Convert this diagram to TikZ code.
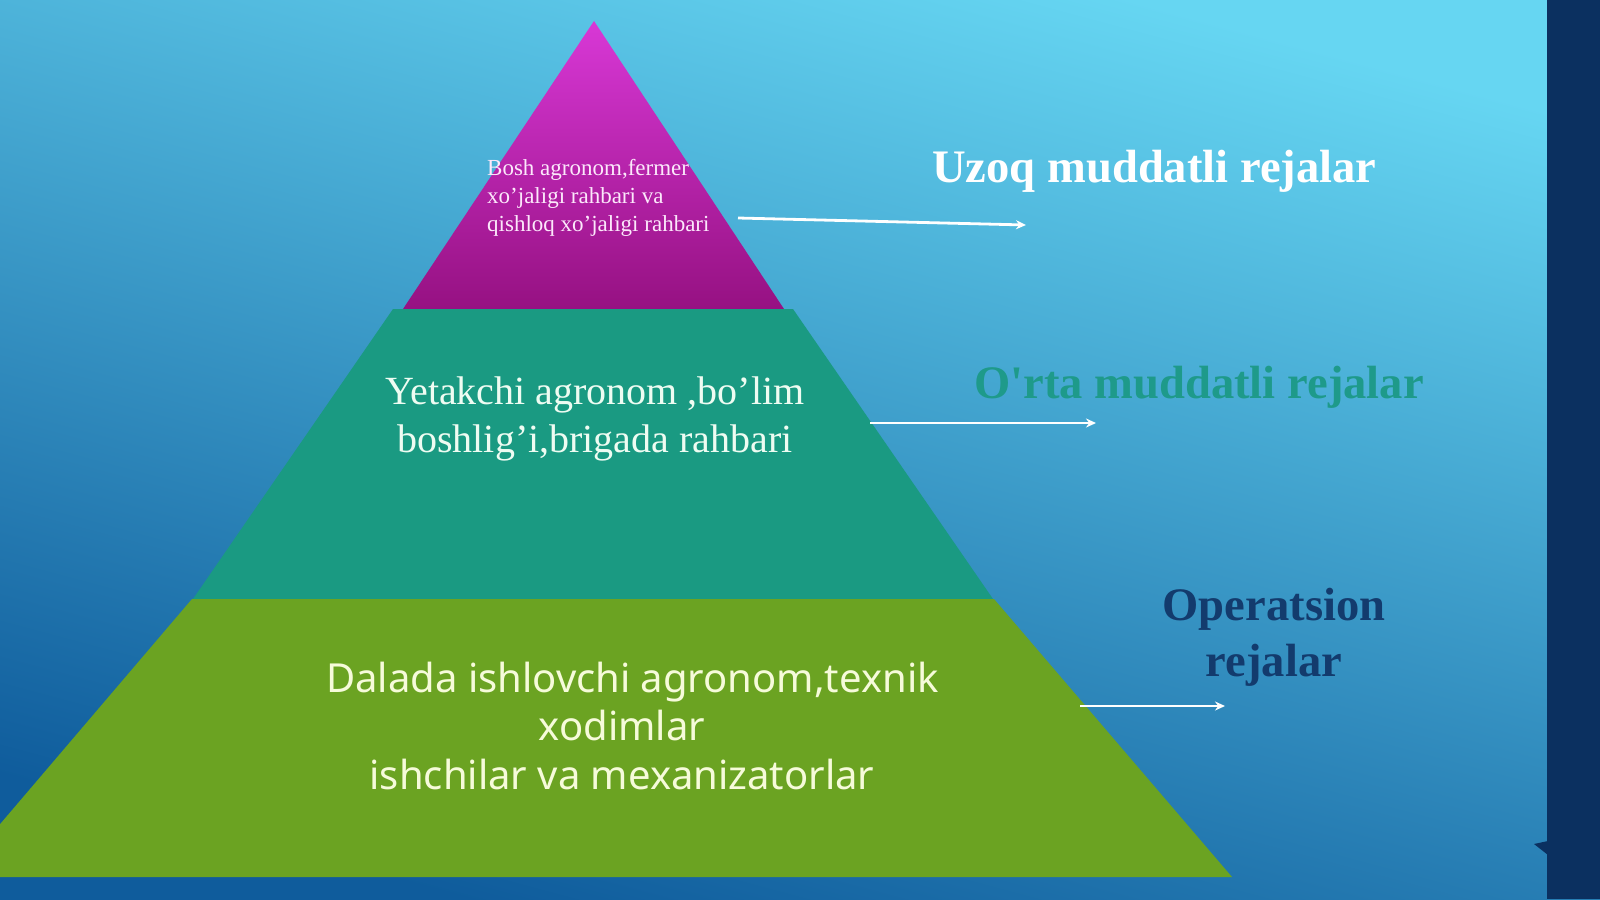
\documentclass[tikz,border=0pt]{standalone}
\usepackage{fontspec}
\setmainfont{Liberation Serif}
\newfontfamily\lblfont{Liberation Serif}
\newfontfamily\notofont{Noto Sans}
\usetikzlibrary{arrows.meta}
\definecolor{bgtop}{HTML}{66D6F2}
\definecolor{bgbot}{HTML}{0F5C9C}
\definecolor{strip}{HTML}{0B3060}
\definecolor{magtop}{HTML}{D838D6}
\definecolor{magbot}{HTML}{961182}
\definecolor{tealc}{HTML}{1A9A82}
\definecolor{greenc}{HTML}{6BA322}
\definecolor{toptxt}{HTML}{FCE8FB}
\definecolor{midtxt}{HTML}{EEFCF2}
\definecolor{bottxt}{HTML}{F6FBDA}
\definecolor{ortac}{HTML}{1E9A8A}
\definecolor{opc}{HTML}{133B6D}
\tikzset{
  arr/.style={draw=white, line width=2.8pt, -{Stealth[length=10pt,width=9pt]}},
  toptext/.style={text=toptxt, inner sep=0pt, align=left, font=\fontsize{23}{27.8}\selectfont},
  midtext/.style={text=midtxt, inner sep=0pt, align=center, font=\fontsize{40}{48}\selectfont},
  bottext/.style={text=bottxt, inner sep=0pt, align=center, font=\notofont\fontsize{40}{48.5}\selectfont},
  lbl/.style={inner sep=0pt, font=\lblfont\bfseries\fontsize{46.6}{56}\selectfont}
}
\begin{document}
\begin{tikzpicture}[x=1pt,y=-1pt]
\useasboundingbox (0,0) rectangle (1600,899);
% background
\path[top color=bgtop, bottom color=bgbot, shading angle=-15] (0,0) rectangle (1600,899);
\fill[strip] (1547,0) rectangle (1600,899);
\fill[strip] (1534,844) -- (1548,841) -- (1548,855) -- cycle;
% pyramid tiers
\path[top color=magtop, bottom color=magbot] (594,21) -- (784,309) -- (403,309) -- cycle;
\fill[tealc] (393,309) -- (793,309) -- (993,599) -- (193,599) -- cycle;
\fill[greenc] (192,599) -- (994,599) -- (1232,877) -- (-45,877) -- cycle;
% tier texts (anchor = baseline of the last line)
\node[toptext, anchor=base west] (top) at (487,231) {Bosh agronom,fermer\\xo’jaligi rahbari va\\qishloq xo’jaligi rahbari};
\node[midtext, anchor=base] (mid) at (595,452) {Yetakchi agronom ,bo’lim\\boshlig’i,brigada rahbari};
\node[bottext, anchor=base] (bot) at (622,789) {\hspace*{21pt}Dalada ishlovchi agronom,texnik\\xodimlar\\ishchilar va mexanizatorlar};
% labels
\node[lbl, text=white, anchor=base west] (uzoq) at (932,182) {Uzoq muddatli rejalar};
\node[lbl, text=ortac, anchor=base west] (orta) at (974,398) {O'rta muddatli rejalar};
\node[lbl, text=opc, anchor=base, align=center] (oper) at (1274,676) {Operatsion\\rejalar};
% arrows
\coordinate (a1s) at (738,218);
\coordinate (a1e) at (1026,225);
\coordinate (a2s) at (870,423);
\coordinate (a2e) at (1096,423);
\coordinate (a3s) at (1080,706);
\coordinate (a3e) at (1225,706);
\draw[arr] (a1s) -- (a1e);
\draw[arr] (a2s) -- (a2e);
\draw[arr] (a3s) -- (a3e);
\end{tikzpicture}
\end{document}
